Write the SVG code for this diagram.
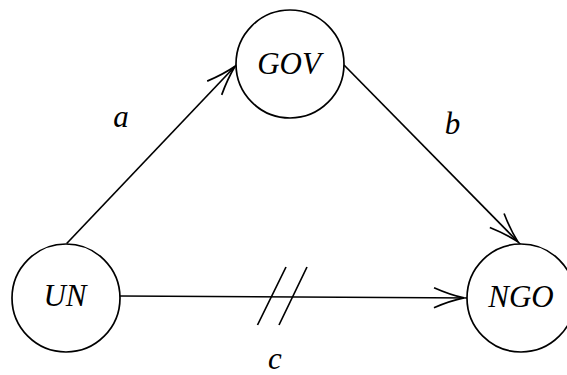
<svg xmlns="http://www.w3.org/2000/svg" width="567" height="375" viewBox="0 0 567 375">
  <style>
    .node { fill: #ffffff; stroke: #000000; stroke-width: 1.7; }
    .edge { fill: none; stroke: #000000; stroke-width: 1.7; }
    .lbl { font-family: "Liberation Serif", "Times New Roman", serif; font-style: italic; font-size: 31px; fill: #000000; text-anchor: middle; }
  </style>
  <defs>
    <marker id="arrow" markerUnits="userSpaceOnUse" markerWidth="60" markerHeight="40" refX="0" refY="0" orient="auto" overflow="visible">
      <path d="M-40,-10 Q-24,-3 -10,0 M-40,10 Q-24,3 -10,0" fill="none" stroke="#000000" stroke-width="1.7"/>
    </marker>
  </defs>
  <rect width="567" height="375" fill="#ffffff"/>
  <g id="connectors">
    <g id="edge-a">
      <path class="edge" d="M66.7,243.5 L242,59" marker-end="url(#arrow)"/>
      <text class="lbl" x="121" y="127">a</text>
    </g>
    <g id="edge-b">
      <path class="edge" d="M344,65 L525,249" marker-end="url(#arrow)"/>
      <text class="lbl" x="452.5" y="134">b</text>
    </g>
    <g id="edge-c">
      <path class="edge" d="M120,296 L474,298" marker-end="url(#arrow)"/>
      <path class="edge" d="M257.5,325 L286,267 M279,325 L307,267"/>
      <text class="lbl" x="275" y="369">c</text>
    </g>
  </g>
  <g id="node-gov">
    <circle class="node" cx="290" cy="64" r="54"/>
    <text class="lbl" x="289" y="74">GOV</text>
  </g>
  <g id="node-un">
    <circle class="node" cx="66" cy="298" r="54"/>
    <text class="lbl" x="65" y="306">UN</text>
  </g>
  <g id="node-ngo">
    <circle class="node" cx="521" cy="298" r="54"/>
    <text class="lbl" x="521" y="306.5">NGO</text>
  </g>
</svg>
